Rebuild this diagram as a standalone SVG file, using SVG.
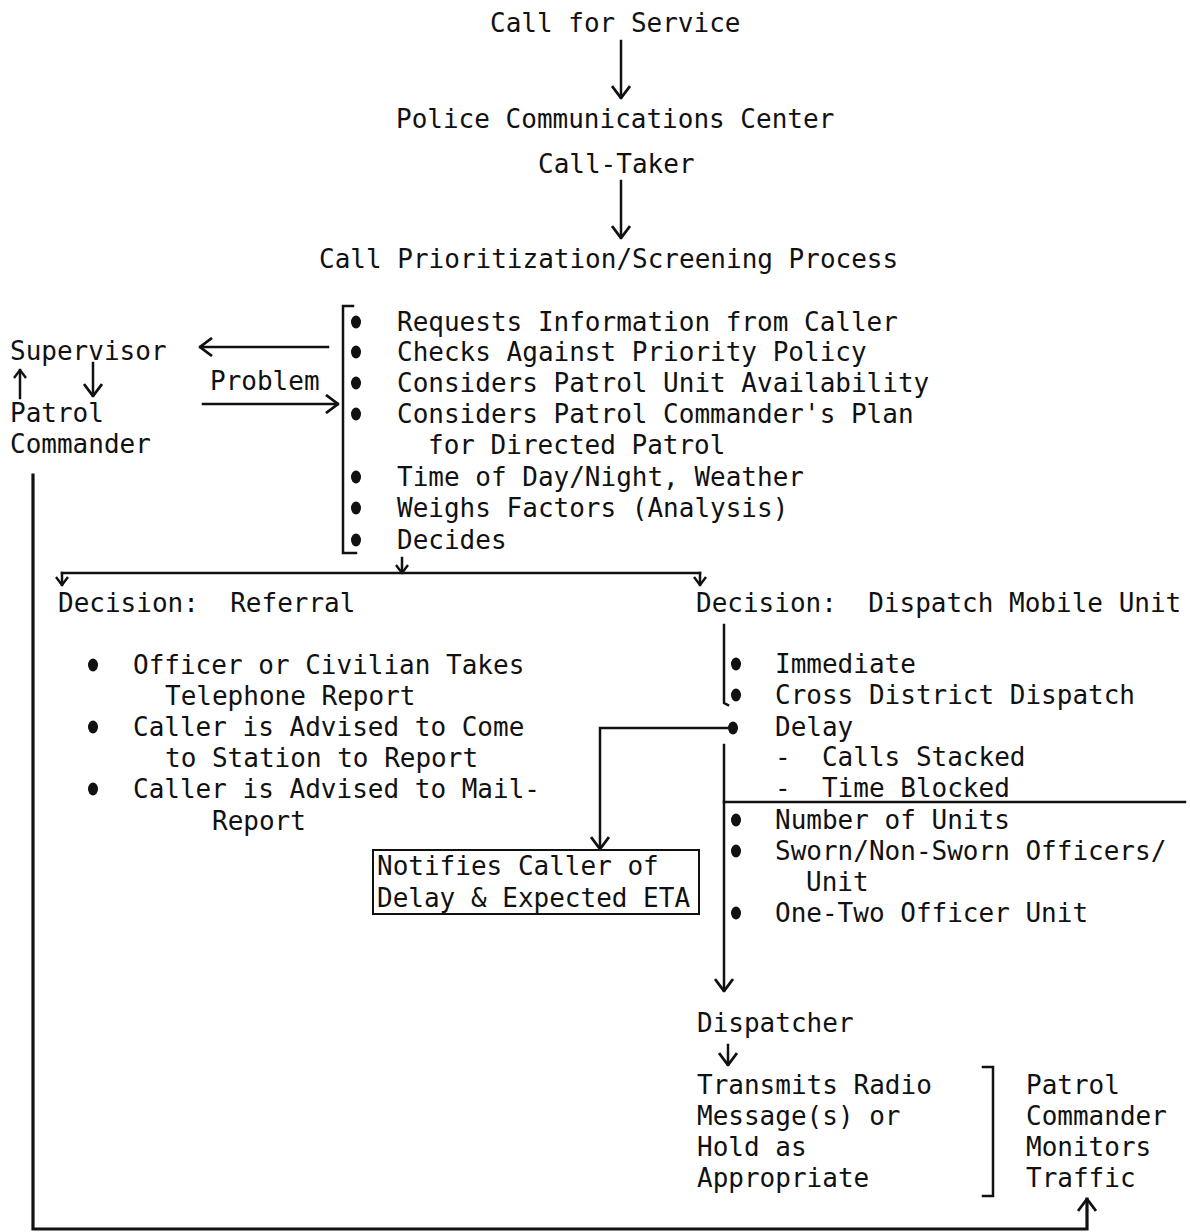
<svg xmlns="http://www.w3.org/2000/svg" width="1190" height="1232" viewBox="0 0 1190 1232">
  <style>
    text { font-family: "DejaVu Sans Mono", "Liberation Mono", monospace; font-size: 26px; fill: #111; white-space: pre; }
    .ln { fill: none; stroke: #111; stroke-width: 2.5; stroke-linecap: square; }
    .thick { stroke-width: 3.2; }
    .dot { fill: #111; }
    .box { fill: none; stroke: #111; stroke-width: 2; }
  </style>
  <defs>
    <marker id="arr" viewBox="0 0 14 20" refX="13" refY="10" markerWidth="14" markerHeight="20" markerUnits="userSpaceOnUse" orient="auto">
      <path d="M1,1 L13,10 L1,19" fill="none" stroke="#111" stroke-width="2.8"/>
    </marker>
    <marker id="arrS" viewBox="0 0 10 14" refX="9" refY="7" markerWidth="10" markerHeight="14" markerUnits="userSpaceOnUse" orient="auto">
      <path d="M1,1 L9,7 L1,13" fill="none" stroke="#111" stroke-width="2.4"/>
    </marker>
  </defs>
  <rect width="1190" height="1232" fill="#fff"/>

  <!-- connectors -->
  <g id="connectors">
    <line class="ln" x1="621" y1="41" x2="621" y2="98" marker-end="url(#arr)"/>
    <line class="ln" x1="621" y1="181" x2="621" y2="238" marker-end="url(#arr)"/>
    <!-- to / from supervisor -->
    <line class="ln" x1="328" y1="347" x2="200" y2="347" marker-end="url(#arr)"/>
    <line class="ln" x1="203" y1="404" x2="338" y2="404" marker-end="url(#arr)"/>
    <line class="ln" x1="20" y1="398" x2="20" y2="370" marker-end="url(#arrS)"/>
    <line class="ln" x1="93" y1="363" x2="93" y2="396" marker-end="url(#arr)"/>
    <!-- decision split -->
    <line class="ln" x1="402" y1="558" x2="402" y2="573" marker-end="url(#arrS)"/>
    <line class="ln" x1="62" y1="573" x2="700" y2="573"/>
    <line class="ln" x1="62" y1="573" x2="62" y2="585" marker-end="url(#arrS)"/>
    <line class="ln" x1="700" y1="573" x2="700" y2="585" marker-end="url(#arrS)"/>
    <!-- dispatch column -->
    <polyline class="ln" points="724,625 724,703 728,705"/>
    <line class="ln" x1="724" y1="745" x2="724" y2="991" marker-end="url(#arr)"/>
    <line class="ln" x1="724" y1="802" x2="1185" y2="802"/>
    <polyline class="ln" points="727,728 600,728 600,849" marker-end="url(#arr)"/>
    <line class="ln" x1="728" y1="1045" x2="728" y2="1065" marker-end="url(#arr)"/>
    <!-- patrol commander feedback loop -->
    <polyline class="ln thick" points="33,475 33,1229 1087,1229 1087,1199" marker-end="url(#arr)"/>
  </g>

  <g id="call-for-service"><text x="490" y="32">Call for Service</text></g>
  <g id="communications-center">
    <text x="396" y="128">Police Communications Center</text>
    <text x="538" y="173">Call-Taker</text>
  </g>
  <g id="screening-process"><text x="319" y="268">Call Prioritization/Screening Process</text></g>

  <g id="screening-steps">
    <polyline class="ln" points="353,306 343,306 343,553 356,553"/>
    <ellipse class="dot" cx="356" cy="322" rx="5" ry="6.5"/>
    <ellipse class="dot" cx="356" cy="352" rx="5" ry="6.5"/>
    <ellipse class="dot" cx="356" cy="383" rx="5" ry="6.5"/>
    <ellipse class="dot" cx="356" cy="414" rx="5" ry="6.5"/>
    <ellipse class="dot" cx="356" cy="477" rx="5" ry="6.5"/>
    <ellipse class="dot" cx="356" cy="508" rx="5" ry="6.5"/>
    <ellipse class="dot" cx="356" cy="540" rx="5" ry="6.5"/>
    <text x="397" y="331">Requests Information from Caller</text>
    <text x="397" y="361">Checks Against Priority Policy</text>
    <text x="397" y="392">Considers Patrol Unit Availability</text>
    <text x="397" y="423">Considers Patrol Commander's Plan</text>
    <text x="428" y="454">for Directed Patrol</text>
    <text x="397" y="486">Time of Day/Night, Weather</text>
    <text x="397" y="517">Weighs Factors (Analysis)</text>
    <text x="397" y="549">Decides</text>
  </g>

  <g id="supervisor">
    <text x="10" y="360">Supervisor</text>
    <text x="210" y="390">Problem</text>
  </g>
  <g id="patrol-commander">
    <text x="10" y="422">Patrol</text>
    <text x="10" y="453">Commander</text>
  </g>

  <g id="decision-referral">
    <text x="58" y="612">Decision:  Referral</text>
    <ellipse class="dot" cx="93" cy="665" rx="5" ry="6.5"/>
    <ellipse class="dot" cx="93" cy="727" rx="5" ry="6.5"/>
    <ellipse class="dot" cx="93" cy="789" rx="5" ry="6.5"/>
    <text x="133" y="674">Officer or Civilian Takes</text>
    <text x="165" y="705">Telephone Report</text>
    <text x="133" y="736">Caller is Advised to Come</text>
    <text x="165" y="767">to Station to Report</text>
    <text x="133" y="798">Caller is Advised to Mail-</text>
    <text x="212" y="830">Report</text>
  </g>

  <g id="decision-dispatch">
    <text x="696" y="612">Decision:  Dispatch Mobile Unit</text>
    <ellipse class="dot" cx="736" cy="664" rx="5" ry="6.5"/>
    <ellipse class="dot" cx="736" cy="695" rx="5" ry="6.5"/>
    <ellipse class="dot" cx="733" cy="728" rx="5" ry="6.5"/>
    <ellipse class="dot" cx="736" cy="820" rx="5" ry="6.5"/>
    <ellipse class="dot" cx="736" cy="851" rx="5" ry="6.5"/>
    <ellipse class="dot" cx="736" cy="913" rx="5" ry="6.5"/>
    <text x="775" y="673">Immediate</text>
    <text x="775" y="704">Cross District Dispatch</text>
    <text x="775" y="736">Delay</text>
    <text x="775" y="766">-  Calls Stacked</text>
    <text x="775" y="797">-  Time Blocked</text>
    <text x="775" y="829">Number of Units</text>
    <text x="775" y="860">Sworn/Non-Sworn Officers/</text>
    <text x="806" y="891">Unit</text>
    <text x="775" y="922">One-Two Officer Unit</text>
  </g>

  <g id="notify-caller">
    <rect class="box" x="373" y="850" width="326" height="64"/>
    <text x="377" y="875">Notifies Caller of</text>
    <text x="377" y="907">Delay &amp; Expected ETA</text>
  </g>

  <g id="dispatcher"><text x="697" y="1032">Dispatcher</text></g>
  <g id="transmits">
    <text x="697" y="1094">Transmits Radio</text>
    <text x="697" y="1125">Message(s) or</text>
    <text x="697" y="1156">Hold as</text>
    <text x="697" y="1187">Appropriate</text>
  </g>
  <g id="monitors">
    <polyline class="ln" points="983,1067 993,1067 993,1196 983,1196"/>
    <text x="1026" y="1094">Patrol</text>
    <text x="1026" y="1125">Commander</text>
    <text x="1026" y="1156">Monitors</text>
    <text x="1026" y="1187">Traffic</text>
  </g>
</svg>
